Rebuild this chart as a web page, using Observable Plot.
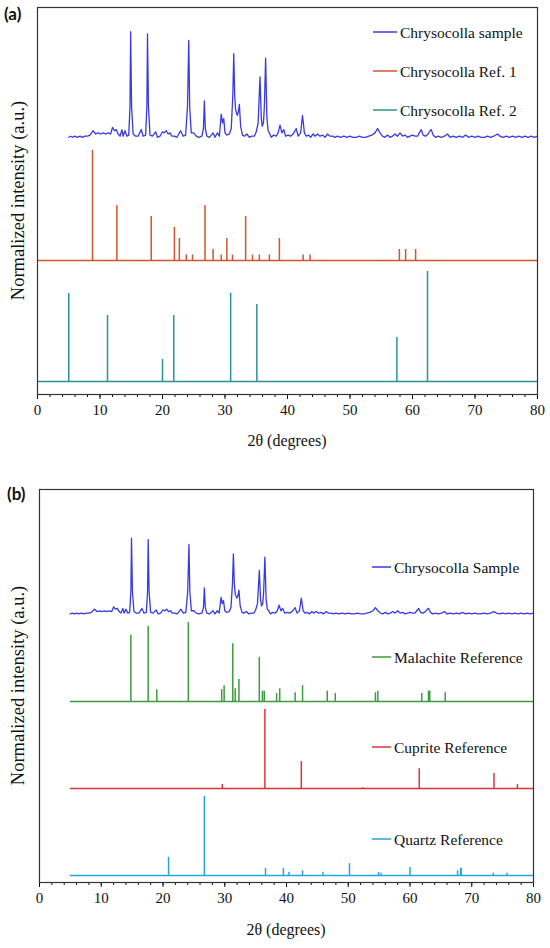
<!DOCTYPE html>
<html><head><meta charset="utf-8">
<script src="https://cdn.jsdelivr.net/npm/d3@7"></script>
<script src="https://cdn.jsdelivr.net/npm/@observablehq/plot@0.6"></script>
<style>
body{margin:0;background:#fff;}
#root{width:550px;}
#root svg{display:block;}
#root svg text{font-family:'Liberation Serif','Times New Roman',serif !important;}
#root svg text.tag{font-family:Lato,'Open Sans',sans-serif !important;font-weight:700;}
</style></head><body><div id="root"></div>
<script>
// ---------- DATA (2θ in degrees, normalized intensity in %) ----------
const samplePattern = [
 [5.0,2],[5.3,3],[5.6,2],[6.0,3],[6.4,2],[6.8,3],[7.2,2],[7.6,3],[8.0,3],[8.4,4],[8.9,8],[9.3,5],[9.7,6],[10.1,5],[10.5,6],[10.9,5],[11.3,6],[11.7,5],
 [12.0,11],[12.3,8],[12.6,9],[12.9,5],[13.2,3],[13.5,9],[13.7,3],[14.0,8],[14.3,3],[14.6,4],[14.8,30],[14.9,98],[15.05,30],[15.3,5],[15.7,3],[16.1,3],
 [16.6,9],[16.9,3],[17.3,4],[17.5,30],[17.6,96],[17.75,30],[18.0,4],[18.4,3],[18.9,7],[19.2,2],[19.6,3],[20.0,7],[20.3,6],[20.6,8],[20.9,5],[21.2,6],
 [21.5,3],[21.9,3],[22.3,2],[22.9,8],[23.3,3],[23.7,4],[24.0,30],[24.2,90],[24.35,30],[24.6,6],[25.0,6],[25.4,3],[25.8,2],[26.3,3],[26.55,10],[26.7,35],
 [26.85,10],[27.1,3],[27.5,2],[28.1,6],[28.4,2],[28.8,6],[29.1,3],[29.4,23],[29.6,15],[29.8,19],[30.0,6],[30.3,4],[30.7,5],[31.0,10],[31.25,40],[31.4,78],
 [31.55,40],[31.7,27],[31.95,22],[32.1,24],[32.3,32],[32.5,12],[32.8,4],[33.1,3],[33.5,5],[33.9,2],[34.3,3],[34.7,3],[35.0,7],[35.3,15],[35.6,57],[35.8,20],
 [35.95,12],[36.15,15],[36.3,30],[36.5,74],[36.7,20],[36.9,8],[37.1,6],[37.4,2],[37.8,4],[38.2,3],[38.5,6],[38.8,13],[39.1,6],[39.4,9],[39.7,3],[40.1,4],
 [40.5,3],[40.9,5],[41.4,10],[41.7,3],[42.1,6],[42.4,22],[42.7,6],[43.0,3],[43.4,4],[43.7,2],[44.1,5],[44.4,3],[44.8,5],[45.2,3],[45.6,4],[46.0,2],
 [46.4,5],[46.8,3],[47.2,3],[47.6,2],[48.0,3],[48.5,2],[49.0,3],[49.5,2],[50.0,3],[50.5,2],[51.0,2],[51.5,3],[52.0,2],[52.5,2],[53.0,3],[53.5,4],
 [54.0,6],[54.4,10],[54.8,6],[55.2,3],[55.6,2],[56.0,4],[56.4,2],[56.8,3],[57.2,5],[57.6,3],[58.0,6],[58.4,3],[58.8,4],[59.2,2],[59.6,3],[60.0,4],
 [60.4,3],[60.8,3],[61.1,6],[61.4,9],[61.7,4],[62.1,3],[62.5,5],[62.8,8],[63.0,9],[63.3,4],[63.7,2],[64.1,3],[64.6,2],[65.1,3],[65.6,5],[66.0,2],
 [66.5,3],[67.0,2],[67.5,3],[68.0,2],[68.5,4],[69.0,2],[69.5,3],[70.0,2],[70.5,3],[71.0,2],[71.5,2],[72.0,3],[72.5,2],[73.0,3],[73.6,5],[74.0,3],
 [74.5,2],[75.0,3],[75.5,2],[76.0,3],[76.5,2],[77.0,3],[77.5,2],[78.0,3],[78.5,2],[79.0,3],[79.5,2],[80.0,3]
];
const ref1Peaks = [[8.8,100],[12.7,50],[18.2,40],[21.9,30],[22.7,20],[23.8,5],[24.8,5],[26.8,50],[28.1,10],[29.4,5],[30.3,20],[31.2,5],
 [33.3,40],[34.4,5],[35.5,5],[37.1,5],[38.7,20],[42.5,5],[43.6,5],[57.9,10],[58.9,10],[60.5,10]];
const ref2Peaks = [[5.0,80],[11.2,60],[20.0,20],[21.8,60],[30.9,80],[35.1,70],[57.5,40],[62.4,100]];
const malachitePeaks = [[14.8,84],[17.6,95],[19.0,15],[24.1,100],[29.5,15],[29.9,20],[31.3,73],[31.7,16],[32.3,28],[35.6,56],[36.1,13],[36.4,13],
 [38.4,10],[38.9,16],[41.4,11],[42.6,20],[46.6,13],[47.9,10],[54.4,11],[54.8,13],[61.9,10],[63.0,13],[63.2,13],[65.7,11]];
const cupritePeaks = [[29.6,5],[36.5,100],[42.4,34],[52.4,1],[61.5,25],[73.6,19],[77.4,5]];
const quartzPeaks = [[20.9,23],[26.7,100],[36.6,9],[39.5,9],[40.4,4],[42.6,6],[45.9,4],[50.2,15],[54.9,4],[55.3,3],[60.0,10],
 [67.7,6],[68.2,9],[68.3,9],[73.5,3],[75.7,3]];
const refRangeA = [0, 80];     // reference patterns in (a) span the full axis
const refRangeB = [5, 80];     // reference patterns in (b) start at 5°
const xTicks = [0,10,20,30,40,50,60,70,80];
const legendA = ["Chrysocolla sample","Chrysocolla Ref. 1","Chrysocolla Ref. 2"];
const legendB = ["Chrysocolla Sample","Malachite Reference","Cuprite Reference","Quartz Reference"];

// ---------- STYLE ----------
const C = {sample:"#3a3ae0", ref1:"#d0562c", ref2:"#2a9292", mal:"#3f9a3f", cup:"#d8363e", qtz:"#2ba3e2"};
const serif = "'Liberation Serif','Times New Roman',serif";

function panel(cfg){
  const {width, mt, plotH, mb, ml, mr, series} = cfg;
  const height = mt + plotH + mb;
  const marks = [];
  for (const s of series){
    if (s.type === "line"){
      marks.push(Plot.line(s.data, {x: d=>d[0], y: d=>s.off + s.k*d[1], stroke: s.color, strokeWidth: 1.3, curve: "linear"}));
    } else {
      marks.push(Plot.ruleY([s.off], {x1: s.range[0], x2: s.range[1], stroke: s.color, strokeWidth: 1.5}));
      marks.push(Plot.ruleX(s.data, {x: d=>d[0], y1: s.off, y2: d=>s.off + s.k*d[1], stroke: s.color, strokeWidth: 1.5}));
    }
  }
  marks.push(Plot.axisX({ticks: d3.range(0,81,2), tickSize: 3, tickFormat: ()=>"", label: null}));
  marks.push(Plot.axisX({ticks: xTicks, tickSize: 5, tickPadding: 5, fontSize: 15, label: null}));
  marks.push(Plot.frame({stroke:"#333", strokeWidth: 1.2}));
  const svg = Plot.plot({
    width, height, marginTop: mt, marginBottom: mb, marginLeft: ml, marginRight: mr,
    x: {domain: [0,80]},
    y: {domain: [0, plotH], axis: null},
    style: {fontFamily: serif, fontSize: "15px", color: "#111", background: "#fff", overflow: "visible"},
    marks
  });
  const g = d3.select(svg);
  // panel tag
  g.append("text").attr("class","tag").attr("x", cfg.tag.x).attr("y", cfg.tag.y).attr("text-anchor","start").text(cfg.tag.text)
    .style("font-size","17px").attr("fill","#111");
  // axis titles
  g.append("text").attr("x", (ml + width - mr)/2).attr("y", mt + plotH + cfg.titleDy)
    .attr("text-anchor","middle").attr("dominant-baseline","central")
    .style("font-size","16px").attr("fill","#111").text("2θ (degrees)");
  g.append("text").attr("transform",`translate(18,${mt + plotH/2}) rotate(-90)`)
    .attr("text-anchor","middle").attr("dominant-baseline","central")
    .style("font-size","18.5px").attr("fill","#111").text("Normalized intensity (a.u.)");
  // legend
  cfg.legend.forEach((L)=>{
    g.append("line").attr("x1",L.x1).attr("x2",L.x2).attr("y1",L.y).attr("y2",L.y).attr("stroke",L.color).attr("stroke-width",1.5);
    g.append("text").attr("x",L.x2+3).attr("y",L.y).attr("text-anchor","start").attr("dominant-baseline","central")
      .style("font-size","15.5px").attr("fill","#111").text(L.text);
  });
  return svg;
}

const root = document.getElementById("root");

// Panel (a)
root.appendChild(panel({
  width: 550, mt: 7, plotH: 387, mb: 81, ml: 37, mr: 13, titleDy: 46,
  tag: {x: 4, y: 20, text: "(a)"},
  series: [
    {type:"line", data: samplePattern, off: 255, k: 1.1, color: C.sample},
    {type:"stick", data: ref1Peaks, off: 134, k: 1.1, color: C.ref1, range: refRangeA},
    {type:"stick", data: ref2Peaks, off: 13, k: 1.1, color: C.ref2, range: refRangeA}
  ],
  legend: [
    {x1: 373, x2: 397, y: 32, color: C.sample, text: legendA[0]},
    {x1: 373, x2: 397, y: 71, color: C.ref1, text: legendA[1]},
    {x1: 373, x2: 397, y: 110, color: C.ref2, text: legendA[2]}
  ]
}));

// Panel (b)
root.appendChild(panel({
  width: 550, mt: 14, plotH: 393, mb: 66, ml: 39, mr: 17, titleDy: 47,
  tag: {x: 7, y: 25, text: "(b)"},
  series: [
    {type:"line", data: samplePattern, off: 267, k: 0.79, color: C.sample},
    {type:"stick", data: malachitePeaks, off: 181, k: 0.79, color: C.mal, range: refRangeB},
    {type:"stick", data: cupritePeaks, off: 94, k: 0.79, color: C.cup, range: refRangeB},
    {type:"stick", data: quartzPeaks, off: 7, k: 0.79, color: C.qtz, range: refRangeB}
  ],
  legend: [
    {x1: 372, x2: 391, y: 92, color: C.sample, text: legendB[0]},
    {x1: 372, x2: 391, y: 182, color: C.mal, text: legendB[1]},
    {x1: 372, x2: 391, y: 272, color: C.cup, text: legendB[2]},
    {x1: 372, x2: 391, y: 364, color: C.qtz, text: legendB[3]}
  ]
}));
</script>
</body></html>
